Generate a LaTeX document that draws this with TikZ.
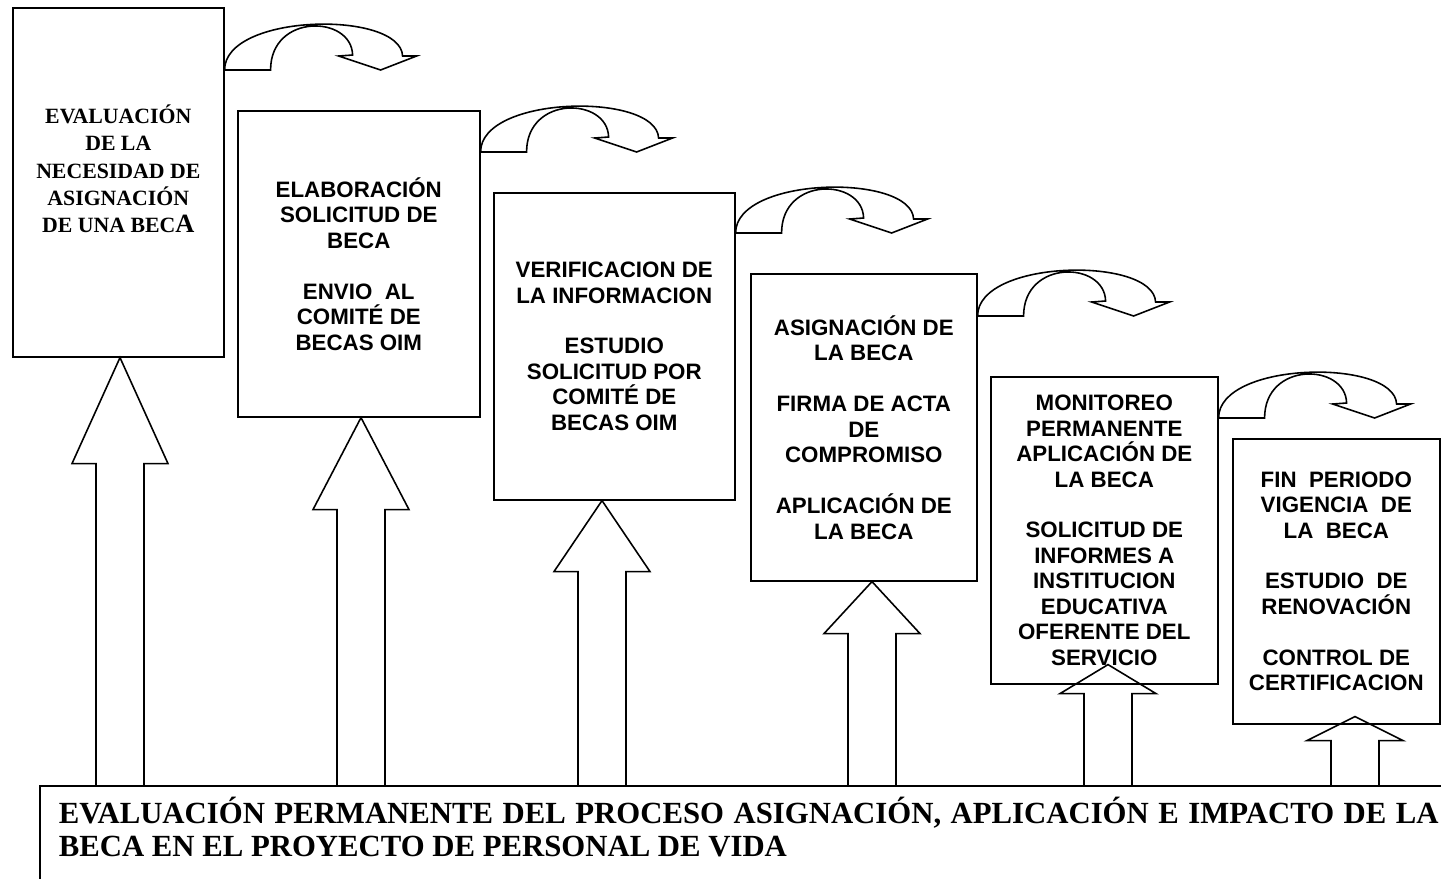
\documentclass[tikz,border=0pt]{standalone}
\usepackage{fontspec}
\setmainfont{Liberation Serif}
\setsansfont{Liberation Sans}
\usetikzlibrary{calc,positioning}

% up block arrow from the bottom panel to a step box
\newcommand{\blockup}[4]{% column, box, tip overlap, head length
  \coordinate (tip) at ($(#1 |- #2.south)+(0,-#3)$);
  \coordinate (foot) at (#1 |- base.north);
  \draw[blockarrow] ($(foot)+(-24,0)$) -- ($(tip)+(-24,#4)$) -- ($(tip)+(-48,#4)$)
    -- (tip) -- ($(tip)+(48,#4)$) -- ($(tip)+(24,#4)$) -- ($(foot)+(24,0)$);}

\tikzset{
  pics/curvearrow/.style={code={
    \draw[line width=0.9pt, line join=miter] (0,0) -- (46,0)
      .. controls (46,-57) and (127,-55) .. (128,-15)
      -- (114,-14) -- (156,0) -- (192,-14) -- (178,-14)
      .. controls (176,-60) and (0,-57) .. (0,0) -- cycle;
  }}
}

\begin{document}
\begin{tikzpicture}[
    x=0.2mm, y=-0.2mm,
    stepbox/.style={draw, line width=0.9pt, anchor=north west, align=center, inner sep=0pt,
      font=\sffamily\bfseries\fontsize{12.7}{14.5}\selectfont},
    firstbox/.style={stepbox, font=\rmfamily\bfseries\fontsize{12.4}{15.5}\selectfont},
    panel/.style={draw, line width=0.9pt, anchor=north west, align=justify, text width=276mm,
      inner xsep=3.8mm, inner ysep=2.2mm, text depth=20mm,
      font=\rmfamily\bfseries\fontsize{17.5}{18.7}\selectfont},
    blockarrow/.style={line width=0.9pt, line join=miter}
  ]
    \useasboundingbox (0,0) rectangle (1441,878);
    \clip (0,0) rectangle (1441,878);

    \node[firstbox, minimum width=42.2mm, minimum height=69.8mm] (b1) at (12,7)
      {EVALUACIÓN\\DE LA\\NECESIDAD DE\\ASIGNACIÓN\\DE UNA BEC{\fontsize{15}{15.5}\selectfont A}\\ \mbox{}};
    \node[stepbox, minimum width=48.4mm, minimum height=61.2mm] (b2) at (237,110)
      {ELABORACIÓN\\SOLICITUD DE\\BECA\\ \\ENVIO\ \ AL\\COMITÉ DE\\BECAS OIM};
    \node[stepbox, minimum width=48.2mm, minimum height=61.4mm] (b3) at (493,192)
      {VERIFICACION DE\\LA INFORMACION\\ \\ESTUDIO\\SOLICITUD POR\\COMITÉ DE\\BECAS OIM};
    \node[stepbox, minimum width=45.2mm, minimum height=61.4mm] (b4) at (750,273)
      {ASIGNACIÓN DE\\LA BECA\\ \\FIRMA DE ACTA\\DE\\COMPROMISO\\ \\APLICACIÓN DE\\LA BECA};
    \node[stepbox, minimum width=45.4mm, minimum height=61.4mm] (b5) at (990,376)
      {MONITOREO\\PERMANENTE\\APLICACIÓN DE\\LA BECA\\ \\SOLICITUD DE\\INFORMES A\\INSTITUCION\\EDUCATIVA\\OFERENTE DEL\\SERVICIO};
    \node[stepbox, minimum width=41.4mm, minimum height=57mm] (b6) at (1232,438)
      {FIN\ \ PERIODO\\VIGENCIA\ \ DE\\LA\ \ BECA\\ \\ESTUDIO\ \ DE\\RENOVACIÓN\\ \\CONTROL DE\\CERTIFICACION};

    \node[panel] (base) at (39,785)
      {EVALUACIÓN PERMANENTE DEL PROCESO ASIGNACIÓN, APLICACIÓN E IMPACTO DE LA\linebreak
       BECA EN EL PROYECTO DE PERSONAL DE VIDA};

    % curved arrows between steps
    \pic at ($(b1.north east)+(0,63)$) {curvearrow};
    \pic at ($(b2.north east)+(0,42)$) {curvearrow};
    \pic at ($(b3.north east)+(0,41)$) {curvearrow};
    \pic at ($(b4.north east)+(0,43)$) {curvearrow};
    \pic at ($(b5.north east)+(0,42)$) {curvearrow};

    % block arrows up from the panel
    \coordinate (c1) at (120,0);
    \coordinate (c2) at (361,0);
    \coordinate (c3) at (602,0);
    \coordinate (c4) at (872,0);
    \coordinate (c5) at (1108,0);
    \coordinate (c6) at (1355,0);
    \blockup{c1}{b1}{0}{106}
    \blockup{c2}{b2}{0}{92}
    \blockup{c3}{b3}{0}{71}
    \blockup{c4}{b4}{0}{52}
    \blockup{c5}{b5}{20}{29}
    \blockup{c6}{b6}{8}{24}
\end{tikzpicture}
\end{document}
